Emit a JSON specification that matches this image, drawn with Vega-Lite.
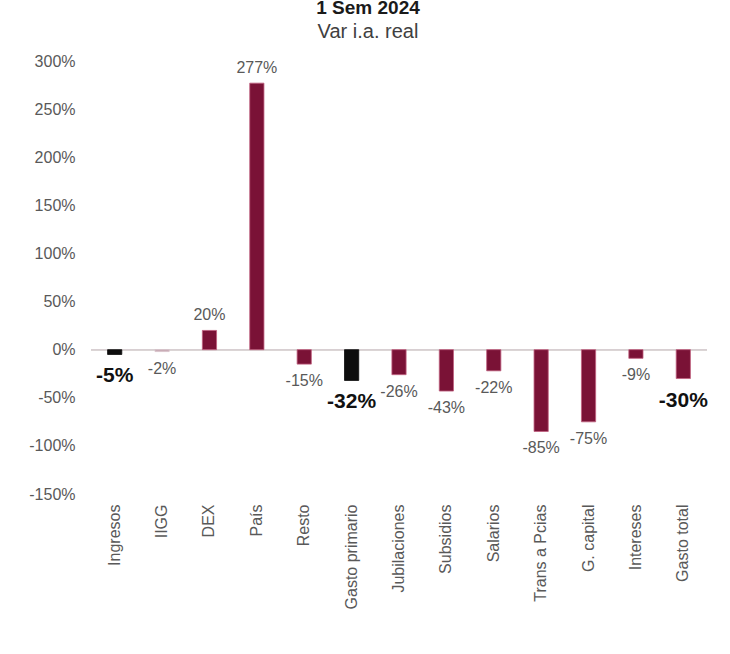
{
  "$schema": "https://vega.github.io/schema/vega-lite/v6.json",
  "autosize": {"type": "none"},
  "padding": {"left": 91, "top": 61, "right": 23, "bottom": 160},
  "width": 616,
  "height": 433,
  "background": "white",
  "config": {
    "view": {"stroke": null},
    "font": "Liberation Sans",
    "locale": {"number": {"decimal": ".", "thousands": ",", "grouping": [3], "currency": ["$", ""], "minus": "-"}},
    "axis": {"grid": false, "domain": false, "ticks": false, "labelFont": "Liberation Sans", "labelColor": "#595959", "labelFontSize": 16}
  },
  "title": {
    "text": "1 Sem 2024",
    "subtitle": "Var i.a. real",
    "anchor": "middle",
    "dx": -31,
    "offset": 11,
    "fontSize": 19,
    "fontWeight": "bold",
    "color": "#1a1a1a",
    "subtitleFontSize": 20,
    "subtitleColor": "#404040",
    "subtitlePadding": 4,
    "font": "Liberation Sans",
    "subtitleFont": "Liberation Sans"
  },
  "data": {
    "values": [
      {"categoria": "Ingresos", "valor": -0.05, "tipo": "total"},
      {"categoria": "IIGG", "valor": -0.02, "tipo": "leve"},
      {"categoria": "DEX", "valor": 0.20, "tipo": "parcial"},
      {"categoria": "País", "valor": 2.77, "tipo": "parcial"},
      {"categoria": "Resto", "valor": -0.15, "tipo": "parcial"},
      {"categoria": "Gasto primario", "valor": -0.32, "tipo": "total"},
      {"categoria": "Jubilaciones", "valor": -0.26, "tipo": "parcial"},
      {"categoria": "Subsidios", "valor": -0.43, "tipo": "parcial"},
      {"categoria": "Salarios", "valor": -0.22, "tipo": "parcial"},
      {"categoria": "Trans a Pcias", "valor": -0.85, "tipo": "parcial"},
      {"categoria": "G. capital", "valor": -0.75, "tipo": "parcial"},
      {"categoria": "Intereses", "valor": -0.09, "tipo": "parcial"},
      {"categoria": "Gasto total", "valor": -0.30, "tipo": "resumen"}
    ]
  },
  "encoding": {
    "x": {
      "field": "categoria", "type": "nominal", "sort": null, "title": null,
      "scale": {"paddingInner": 0.7, "paddingOuter": 0.35},
      "axis": {"labelAngle": -90, "labelPadding": 10, "labelAlign": "right", "labelBaseline": "middle"}
    },
    "y": {
      "field": "valor", "type": "quantitative", "title": null,
      "scale": {"domain": [-1.5, 3.0], "nice": false, "zero": false},
      "axis": {"values": [-1.5, -1.0, -0.5, 0, 0.5, 1.0, 1.5, 2.0, 2.5, 3.0], "format": ".0%", "labelPadding": 16}
    }
  },
  "layer": [
    {
      "mark": {"type": "rule", "color": "#d8cfd2", "strokeWidth": 1},
      "encoding": {"y": {"datum": 0}, "x": {"value": 0}, "x2": {"value": 616}}
    },
    {
      "mark": {"type": "bar", "strokeWidth": 0.8},
      "encoding": {
        "y2": {"datum": 0},
        "color": {"field": "tipo", "type": "nominal", "legend": null,
          "scale": {"domain": ["total", "leve", "parcial", "resumen"], "range": ["#0d0d0d", "#c7aab4", "#7a1236", "#7a1236"]}},
        "stroke": {"field": "tipo", "type": "nominal", "legend": null,
          "scale": {"domain": ["total", "leve", "parcial", "resumen"], "range": ["#0d0d0d", "#d9c4cb", "#c0607f", "#c0607f"]}}
      }
    },
    {
      "transform": [{"filter": "datum.valor > 0"}],
      "mark": {"type": "text", "baseline": "bottom", "dy": -7, "fontSize": 16, "color": "#595959"},
      "encoding": {"text": {"field": "valor", "type": "quantitative", "format": ".0%"}}
    },
    {
      "transform": [{"filter": "datum.valor < 0 && datum.tipo != 'total' && datum.tipo != 'resumen'"}],
      "mark": {"type": "text", "baseline": "top", "dy": 9, "fontSize": 16, "color": "#595959"},
      "encoding": {"text": {"field": "valor", "type": "quantitative", "format": ".0%"}}
    },
    {
      "transform": [{"filter": "datum.tipo == 'total' || datum.tipo == 'resumen'"}],
      "mark": {"type": "text", "baseline": "top", "dy": 11, "fontSize": 21, "fontWeight": "bold", "color": "#111111"},
      "encoding": {"text": {"field": "valor", "type": "quantitative", "format": ".0%"}}
    }
  ]
}
